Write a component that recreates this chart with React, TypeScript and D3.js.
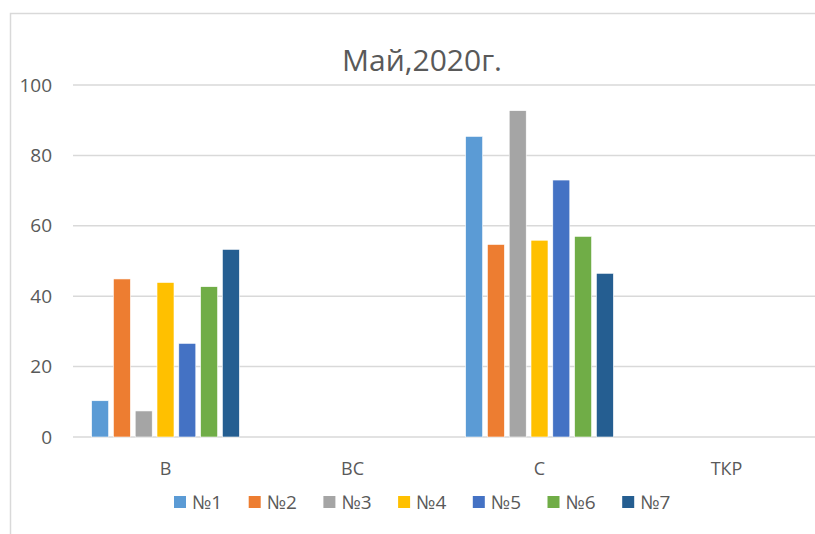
import { useEffect, useRef } from "react";
import * as d3 from "d3";

const categories = ["В", "ВС", "С", "ТКР"];
const seriesNames = ["№1", "№2", "№3", "№4", "№5", "№6", "№7"];
const colors = ["#5B9BD5", "#ED7D31", "#A5A5A5", "#FFC000", "#4472C4", "#70AD47", "#255E91"];
// one array per category, values in series order (null = no data)
const valuesB = [10.3, 44.9, 7.4, 43.9, 26.6, 42.7, 53.3];
const valuesBC: (number | null)[] = [null, null, null, null, null, null, null];
const valuesC = [85.4, 54.7, 92.7, 55.9, 73.0, 57.0, 46.5];
const valuesTKR: (number | null)[] = [null, null, null, null, null, null, null];
const yTicks = [0, 20, 40, 60, 80, 100];

export default function App() {
  const svgRef = useRef<SVGSVGElement | null>(null);

  useEffect(() => {
    if (!svgRef.current) return;
    const width = 815;
    const height = 534;
    const font = "'Open Sans', sans-serif";
    const textColor = "#595959";

    const svg = d3.select(svgRef.current);
    svg.selectAll("*").remove();
    svg.attr("width", width).attr("height", height);

    svg.append("rect").attr("width", width).attr("height", height).attr("fill", "#fff");
    // chart frame (cropped on right and bottom)
    svg.append("path")
      .attr("d", `M10.5,${height} V13.5 H${width}`)
      .attr("fill", "none")
      .attr("stroke", "#d9d9d9")
      .attr("stroke-width", 1.5);

    svg.append("text")
      .attr("x", 422)
      .attr("y", 71)
      .attr("text-anchor", "middle")
      .attr("font-family", font)
      .attr("font-size", 30)
      .attr("fill", textColor)
      .text("Май,2020г.");

    const rows = [valuesB, valuesBC, valuesC, valuesTKR];

    const x0 = d3.scaleBand<string>().domain(categories).range([72, 820]);
    const x1 = d3.scaleBand<string>().domain(seriesNames).range([0, x0.bandwidth()])
      .paddingInner(0.22).paddingOuter(0.9);
    const y = d3.scaleLinear().domain([0, 100]).range([437, 85]);

    const grid = svg.append("g");
    grid.selectAll("line").data(yTicks).join("line")
      .attr("x1", 73).attr("x2", width)
      .attr("y1", d => y(d)).attr("y2", d => y(d))
      .attr("stroke", "#d9d9d9").attr("stroke-width", 1.5);

    svg.append("g").selectAll("text").data(yTicks).join("text")
      .attr("x", 52)
      .attr("y", d => y(d))
      .attr("dy", "0.35em")
      .attr("text-anchor", "end")
      .attr("font-family", font)
      .attr("font-size", 19)
      .attr("fill", textColor)
      .text(d => d);

    const groups = svg.append("g").selectAll("g").data(categories).join("g")
      .attr("transform", c => `translate(${x0(c)},0)`);

    groups.selectAll("rect")
      .data((c, i) => rows[i].map((v, j) => ({ name: seriesNames[j], v, color: colors[j] })).filter(d => d.v != null))
      .join("rect")
      .attr("x", d => x1(d.name)!)
      .attr("width", x1.bandwidth())
      .attr("y", d => y(d.v as number))
      .attr("height", d => y(0) - y(d.v as number))
      .attr("fill", d => d.color)
      .attr("stroke", "#fff")
      .attr("stroke-width", 0.6);

    svg.append("g").selectAll("text").data(categories).join("text")
      .attr("x", c => x0(c)! + x0.bandwidth() / 2)
      .attr("y", 475)
      .attr("text-anchor", "middle")
      .attr("font-family", font)
      .attr("font-size", 18)
      .attr("fill", textColor)
      .text(c => c);

    const legend = svg.append("g").selectAll("g").data(seriesNames).join("g")
      .attr("transform", (_, i) => `translate(${174 + i * 74.7},496)`);
    legend.append("rect")
      .attr("width", 12).attr("height", 12)
      .attr("fill", (_, i) => colors[i]);
    legend.append("text")
      .attr("x", 18)
      .attr("y", 6)
      .attr("dy", "0.36em")
      .attr("font-family", font)
      .attr("font-size", 19)
      .attr("fill", textColor)
      .text(d => d);
  }, []);

  return <svg ref={svgRef} style={{ position: "absolute", left: 0, top: 0 }} />;
}
